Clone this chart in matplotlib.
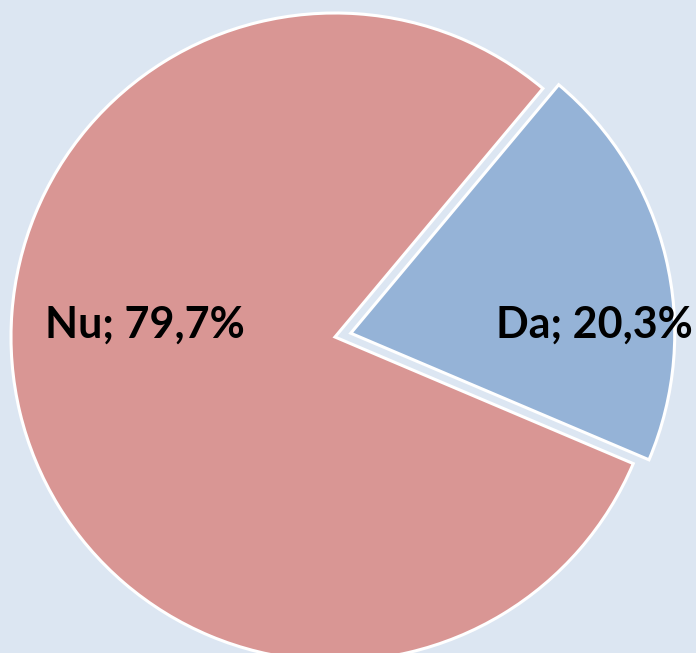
import matplotlib.pyplot as plt

labels = ['Da', 'Nu']
values = [20.3, 79.7]
colors = ['#95b3d7', '#d99694']
explode = [0.05, 0]

bg = '#dce6f2'
W, H = 696, 653
cx, cy, R = 335, 337, 324  # pie center and radius in pixels

fig = plt.figure(figsize=(W / 100, H / 100), dpi=100, facecolor=bg)
ax = fig.add_axes([0, 0, 1, 1])
ax.set_facecolor(bg)

ax.pie(values, colors=colors, explode=explode, startangle=-23, counterclock=True,
       wedgeprops=dict(edgecolor='white', linewidth=2.2))

ax.set_xlim(-cx / R, (W - cx) / R)
ax.set_ylim(-(H - cy) / R, cy / R)
ax.set_aspect('equal')
ax.axis('off')

# label positions (px), decimal comma
label_pos = {'Nu': (145, 338), 'Da': (594, 338)}
for lab, v in zip(labels, values):
    px, py = label_pos[lab]
    txt = f"{lab}; {v:.1f}%".replace('.', ',')
    ax.text((px - cx) / R, (cy - py) / R, txt, ha='center', va='baseline',
            fontsize=31, fontweight='bold', family='Lato', color='black')

fig.savefig('out.png', dpi=100, facecolor=bg)
